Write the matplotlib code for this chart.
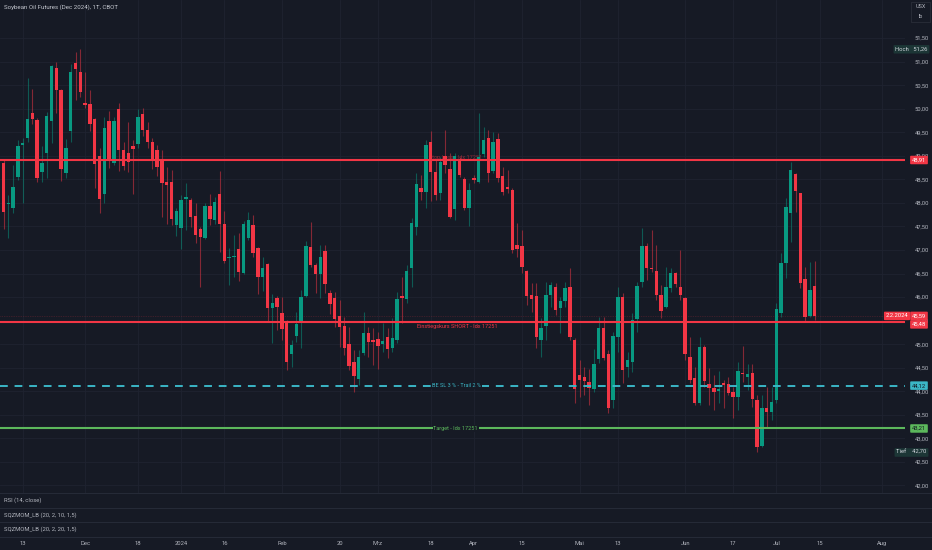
import numpy as np
import matplotlib.pyplot as plt
import matplotlib.transforms as mtransforms
from matplotlib.patches import Rectangle
from matplotlib.lines import Line2D

plt.rcParams['font.family'] = ['Roboto', 'DejaVu Sans']

# Tageskerzen (Index 0 = 7.11.2023 ... 169 = 12.7.2024)
opens = [48.85, 47.98, 47.89, 48.55, 49.23, 49.38, 49.91, 49.76, 48.66, 49.06,
         49.74, 50.86, 50.40, 48.63, 49.53, 50.97, 50.78, 50.12, 50.10, 49.78,
         49.00, 48.19, 49.74, 48.85, 49.99, 49.12, 49.06, 49.21, 49.25, 49.89,
         49.55, 49.29, 49.12, 48.93, 48.44, 48.44, 47.53, 47.47, 48.08, 48.06,
         47.72, 47.45, 47.25, 47.93, 47.64, 48.19, 47.55, 46.83, 46.85, 47.02,
         46.51, 47.25, 47.53, 47.04, 46.43, 46.70, 45.77, 45.98, 45.66, 45.49,
         44.79, 45.17, 45.47, 46.02, 47.06, 46.68, 46.49, 46.98, 46.09, 45.98,
         45.60, 45.39, 45.00, 44.62, 44.26, 44.81, 45.24, 45.09, 45.11, 45.00,
         45.15, 44.92, 45.09, 46.02, 45.96, 46.62, 47.49, 48.32, 48.23, 49.29,
         48.66, 48.21, 49.00, 48.72, 47.87, 48.93, 48.51, 47.89, 48.53, 48.44,
         49.04, 49.38, 48.68, 49.36, 48.57, 48.34, 48.27, 47.11, 47.08, 46.55,
         46.04, 46.02, 45.09, 45.39, 46.04, 46.21, 45.77, 45.92, 46.21, 45.09,
         44.35, 44.30, 44.20, 44.05, 44.69, 45.34, 44.79, 43.81, 45.15, 46.00,
         44.51, 44.62, 45.53, 46.32, 47.08, 46.62, 46.55, 46.04, 45.79, 46.19,
         46.51, 46.21, 45.98, 44.73, 44.28, 43.75, 44.94, 44.15, 44.07, 44.01,
         44.18, 44.15, 43.98, 43.88, 44.39, 44.30, 44.39, 43.81, 42.84, 43.64,
         43.56, 43.81, 45.66, 46.72, 47.78, 48.61, 48.21, 46.38, 45.60, 46.23]
highs = [48.91, 48.17, 48.80, 49.33, 49.38, 50.65, 50.42, 49.80, 49.21, 49.93,
         50.93, 50.99, 50.42, 49.36, 50.95, 51.20, 51.26, 50.78, 50.40, 49.80,
         49.16, 49.82, 49.95, 49.82, 50.12, 49.29, 49.72, 49.33, 49.99, 50.01,
         49.72, 49.38, 49.23, 49.12, 48.76, 48.70, 47.89, 48.17, 48.42, 48.10,
         48.00, 47.49, 48.00, 48.19, 48.12, 48.68, 47.83, 47.04, 47.32, 47.36,
         47.61, 47.81, 47.74, 47.06, 46.85, 46.72, 46.07, 46.02, 46.00, 45.51,
         45.09, 45.68, 46.15, 47.19, 47.59, 46.72, 47.11, 47.11, 46.15, 46.11,
         45.94, 45.58, 45.36, 44.88, 44.88, 45.68, 45.36, 45.34, 45.26, 45.45,
         45.34, 45.56, 46.11, 46.43, 46.68, 47.68, 48.63, 48.59, 49.33, 49.53,
         48.91, 48.97, 49.55, 49.06, 49.06, 48.97, 48.55, 48.42, 48.59, 49.91,
         49.61, 49.55, 49.50, 49.48, 48.76, 48.70, 48.32, 47.57, 47.42, 46.57,
         46.30, 46.30, 45.56, 46.32, 46.32, 46.30, 46.00, 46.32, 46.62, 45.13,
         44.66, 44.51, 44.47, 44.90, 45.58, 45.58, 44.88, 45.26, 46.21, 46.09,
         44.83, 45.66, 46.32, 47.47, 47.15, 47.42, 47.11, 46.26, 46.64, 46.62,
         46.53, 47.00, 46.00, 45.15, 44.51, 45.15, 44.98, 44.49, 44.35, 44.43,
         44.24, 44.30, 44.09, 44.62, 44.96, 44.58, 44.58, 43.92, 43.92, 44.09,
         44.09, 45.87, 46.94, 48.10, 48.87, 48.63, 48.21, 46.64, 46.74, 46.77]
lows = [47.45, 47.25, 47.78, 48.49, 48.00, 49.29, 49.67, 48.44, 48.44, 48.53,
        49.27, 49.91, 48.46, 48.53, 49.29, 50.18, 50.25, 50.01, 49.53, 48.32,
        47.78, 48.00, 48.74, 48.80, 48.68, 48.70, 48.66, 48.19, 49.16, 49.42,
        49.16, 48.72, 48.57, 47.70, 47.55, 47.53, 47.30, 47.02, 47.42, 47.49,
        47.15, 46.21, 47.23, 47.53, 47.55, 46.96, 46.72, 46.26, 46.43, 46.34,
        46.49, 47.21, 46.85, 46.07, 46.13, 45.47, 45.02, 45.30, 45.09, 44.45,
        44.51, 45.05, 44.92, 46.00, 46.64, 46.09, 45.98, 46.09, 45.64, 45.36,
        44.94, 44.77, 44.45, 43.98, 44.13, 44.77, 44.73, 44.56, 44.47, 44.83,
        44.71, 44.83, 45.02, 45.45, 45.87, 46.21, 47.32, 48.06, 47.89, 48.04,
        48.06, 48.06, 48.63, 47.68, 47.64, 48.55, 47.85, 47.51, 48.42, 48.42,
        48.97, 48.44, 48.63, 48.44, 48.17, 48.21, 46.94, 46.85, 46.51, 45.83,
        45.68, 44.92, 44.73, 45.09, 45.79, 45.62, 45.24, 45.79, 45.09, 43.75,
        43.88, 43.92, 43.71, 43.98, 44.60, 44.66, 43.54, 43.64, 44.83, 44.18,
        44.30, 44.41, 45.26, 46.21, 46.36, 46.53, 45.94, 45.56, 45.77, 46.11,
        46.21, 45.94, 44.66, 44.18, 43.71, 43.71, 44.09, 43.71, 43.60, 43.75,
        43.64, 43.92, 43.43, 43.60, 44.20, 44.03, 43.67, 42.70, 42.82, 43.24,
        43.39, 43.75, 45.58, 46.40, 47.17, 47.81, 46.19, 45.47, 45.58, 45.51]
closes = [47.81, 48.00, 48.34, 49.21, 49.27, 49.78, 49.78, 48.53, 48.85, 49.84,
          50.91, 50.40, 48.72, 49.16, 50.78, 50.84, 50.35, 50.08, 49.67, 48.83,
          48.08, 49.59, 48.89, 49.74, 49.12, 48.78, 48.87, 49.14, 49.82, 49.55,
          49.29, 48.93, 48.76, 48.42, 48.38, 47.66, 47.83, 48.06, 48.12, 47.70,
          47.32, 47.28, 47.93, 47.66, 48.02, 47.55, 46.77, 46.85, 46.87, 46.53,
          47.55, 47.64, 46.94, 46.43, 46.62, 45.77, 45.87, 45.79, 45.32, 44.62,
          44.98, 45.43, 46.00, 47.08, 46.68, 46.49, 46.85, 46.28, 45.85, 45.53,
          45.36, 44.92, 44.54, 44.32, 44.73, 45.24, 45.05, 45.05, 44.96, 45.07,
          44.90, 45.13, 45.96, 45.98, 46.55, 47.57, 48.40, 48.23, 49.23, 48.66,
          48.17, 48.87, 48.80, 47.70, 49.00, 48.59, 47.89, 48.27, 48.49, 48.97,
          49.33, 48.63, 49.29, 48.53, 48.23, 48.29, 47.00, 47.02, 46.64, 46.02,
          45.96, 45.15, 45.34, 46.04, 46.26, 45.73, 45.92, 46.19, 45.15, 44.05,
          44.24, 44.22, 44.07, 44.58, 45.34, 44.71, 43.64, 45.17, 46.00, 44.45,
          44.66, 45.51, 46.23, 47.08, 46.62, 46.60, 46.04, 45.70, 46.21, 46.51,
          46.28, 46.04, 44.79, 44.24, 43.75, 44.94, 44.22, 44.07, 43.98, 44.05,
          44.13, 43.96, 43.88, 44.43, 44.37, 44.37, 43.84, 42.82, 43.64, 43.56,
          43.77, 45.75, 46.72, 47.91, 48.70, 48.25, 46.30, 45.58, 46.15, 45.59]

# Zeitachse
tick_idx = [4, 17, 28, 37, 46, 58, 70, 78, 89, 98, 108, 120, 128, 142, 152, 161, 170, 183]
tick_labels = ['13', 'Dec', '18', '2024', '16', 'Feb', '20', 'Mrz', '18', 'Apr',
               '15', 'Mai', '13', 'Jun', '17', 'Jul', '15', 'Aug']
price_ticks = [42.0, 42.5, 43.0, 43.5, 44.0, 44.5, 45.0, 45.5, 46.0, 46.5,
               47.0, 47.5, 48.0, 48.5, 49.0, 49.5, 50.0, 50.5, 51.0, 51.5]

# Linien (Positionen)
stop_level = 48.91
entry_level = 45.48
be_level = 44.12
target_level = 43.21
high_val = 51.26
low_val = 42.70
last_close = closes[-1]

BG = '#161a25'
GRID = '#1f2330'
TXT = '#b2b5be'
UP = '#089981'
DOWN = '#f23645'
TEAL = '#3bb6c6'
GREEN = '#5cb85c'

W, H = 932, 550
fig = plt.figure(figsize=(W / 100, H / 100), dpi=100, facecolor=BG)
ax = fig.add_axes([0, 57 / H, 905 / W, 493 / H], facecolor=BG)
rsi = fig.add_axes([0, 42.5 / H, 905 / W, 14.5 / H], facecolor=BG, sharex=ax)
sqz1 = fig.add_axes([0, 28 / H, 905 / W, 14.5 / H], facecolor=BG, sharex=ax)
sqz2 = fig.add_axes([0, 13 / H, 905 / W, 15 / H], facecolor=BG, sharex=ax)

o = np.array(opens)
c = np.array(closes)
hi = np.array(highs)
lo = np.array(lows)
x = np.arange(len(o))
cols = np.where(c >= o, UP, DOWN)

ax.vlines(x, lo, hi, colors=cols, linewidth=0.8, alpha=0.5, zorder=3)
ax.bar(x, np.maximum(np.abs(c - o), 0.025), bottom=np.minimum(o, c), width=0.7,
       color=cols, linewidth=0, zorder=4)

# Handelslinien
ax.axhline(stop_level, color=DOWN, lw=1.5, zorder=5)
ax.axhline(entry_level, color=DOWN, lw=1.5, zorder=5)
ax.axhline(be_level, color=TEAL, lw=1.4, ls=(0, (4, 3.5)), zorder=5)
ax.axhline(target_level, color=GREEN, lw=1.5, zorder=5)
ax.axhline(last_close, color=DOWN, lw=0.5, ls=(0, (1, 1.5)), alpha=0.35, zorder=2)

ax.text(94.2, stop_level, 'Stop Loss - Idx 17251', color=DOWN, alpha=0.55,
        fontsize=4, ha='center', va='bottom', zorder=3.5)
ax.text(94.6, entry_level - 0.05, 'Einstiegskurs SHORT - Idx 17251', color=DOWN,
        fontsize=4, ha='center', va='top', zorder=6)
ax.text(94.4, be_level, 'BE SL 3 % - Trail 2 %', color=TEAL, fontsize=4,
        ha='center', va='center', zorder=6,
        bbox=dict(facecolor=BG, edgecolor='none', pad=0.6))
ax.text(94.2, target_level, 'Target - Idx 17251', color=GREEN, fontsize=4,
        ha='center', va='center', zorder=6,
        bbox=dict(facecolor=BG, edgecolor='none', pad=0.6))

ax.set_xlim(-0.73, 187.8)
ax.set_ylim(41.84, 52.307)
ax.set_xticks(tick_idx)
ax.set_yticks(price_ticks)
ax.set_yticklabels([f'{v:.2f}'.replace('.', ',') for v in price_ticks])
ax.yaxis.tick_right()
ax.tick_params(axis='y', length=0, pad=7, labelsize=4.2, labelcolor=TXT)
ax.tick_params(axis='x', length=0, labelbottom=False)
ax.grid(True, color=GRID, lw=0.6)
for s in ax.spines.values():
    s.set_visible(False)

# Preis-Labels an der Skala
tr = mtransforms.blended_transform_factory(fig.transFigure, ax.transData)


def price_box(y, txt, fc, tc, xpx=919, dy=0.0):
    ax.text(xpx / W, y + dy, txt, transform=tr, fontsize=4.2, color=tc,
            ha='center', va='center', zorder=10, clip_on=False,
            bbox=dict(boxstyle='round,pad=0.3,rounding_size=0.15', facecolor=fc,
                      edgecolor='none'))


price_box(stop_level, f'{stop_level:.2f}'.replace('.', ','), DOWN, 'white')
price_box(last_close, f'{last_close:.2f}'.replace('.', ','), DOWN, 'white', dy=0.01)
price_box(last_close, '2.2.2024', DOWN, 'white', xpx=897, dy=0.01)
price_box(entry_level, f'{entry_level:.2f}'.replace('.', ','), DOWN, 'white', dy=-0.06)
price_box(be_level, f'{be_level:.2f}'.replace('.', ','), TEAL, '#131722')
price_box(target_level, f'{target_level:.2f}'.replace('.', ','), GREEN, '#131722')
price_box(high_val, 'Hoch   ' + f'{high_val:.2f}'.replace('.', ','), '#1c3636', '#d1d4dc', xpx=911.5)
price_box(low_val, 'Tief    ' + f'{low_val:.2f}'.replace('.', ','), '#1c3636', '#d1d4dc', xpx=911.5)

# Indikator-Panes
pane_names = ['RSI (14, close)', 'SQZMOM_LB (20, 2, 10, 1,5)', 'SQZMOM_LB (20, 2, 20, 1,5)']
for pax, name in zip([rsi, sqz1, sqz2], pane_names):
    pax.set_yticks([])
    pax.tick_params(axis='x', length=0, labelbottom=False)
    for s in pax.spines.values():
        s.set_visible(False)
    pax.text(4 / W, 0.5, name, transform=mtransforms.blended_transform_factory(fig.transFigure, pax.transAxes),
             fontsize=4.2, color=TXT, ha='left', va='center')

sqz2.tick_params(axis='x', length=0, labelbottom=True, pad=3, labelsize=4.2, labelcolor=TXT)
sqz2.set_xticks(tick_idx)
sqz2.set_xticklabels(tick_labels)

for ypx in [493, 507.5, 522, 537]:
    fig.add_artist(Line2D([0, 1], [1 - ypx / H, 1 - ypx / H], transform=fig.transFigure,
                          color='#252a37', lw=0.8))

# Titel und Einheit
fig.text(4 / W, 1 - 7 / H, 'Soybean Oil Futures (Dec 2024), 1T, CBOT', fontsize=4.4,
         color='#c5c8d0', ha='left', va='center')
fig.add_artist(Rectangle((911 / W, 1 - 22 / H), 19 / W, 20 / H, transform=fig.transFigure,
                         facecolor=BG, edgecolor='#2a2e39', lw=0.6))
fig.text(920.5 / W, 1 - 7 / H, 'USX', fontsize=4, color=TXT, ha='center', va='center')
fig.text(920.5 / W, 1 - 16.5 / H, 'lb', fontsize=4, color=TXT, ha='center', va='center')

fig.savefig('out.png', dpi=100, facecolor=BG)
